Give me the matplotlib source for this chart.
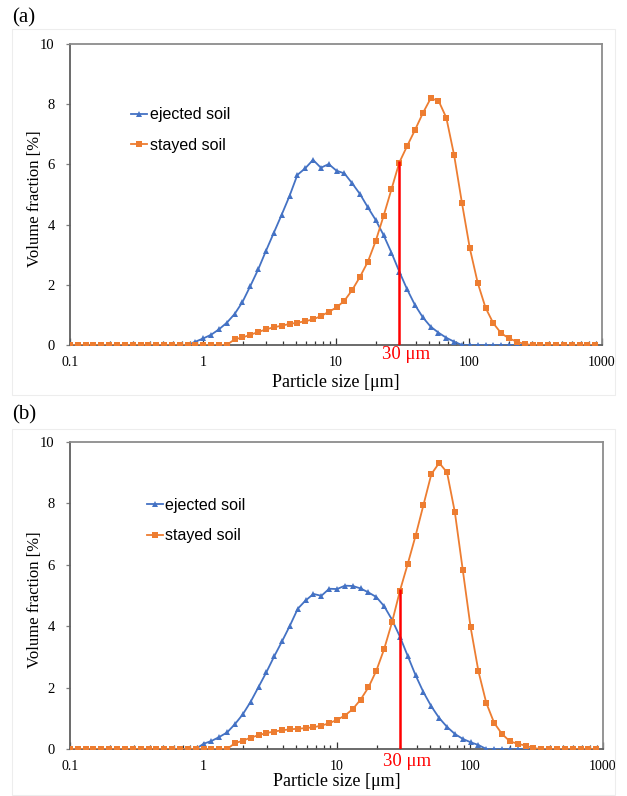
"""Particle size distributions of ejected and stayed soil, panels (a) and (b)."""

import matplotlib
import matplotlib.pyplot as plt
from matplotlib.patches import Rectangle
from matplotlib.ticker import FixedLocator, LogLocator, NullFormatter

matplotlib.use("Agg")

# particle size channels [um]
sizes = [
    0.1, 0.115, 0.131, 0.15, 0.172, 0.197, 0.226, 0.259, 0.296, 0.339,
    0.389, 0.445, 0.51, 0.584, 0.669, 0.766, 0.877, 1.005, 1.151, 1.318,
    1.51, 1.729, 1.981, 2.269, 2.599, 2.976, 3.409, 3.905, 4.472, 5.122,
    5.867, 6.72, 7.697, 8.816, 10.097, 11.565, 13.246, 15.172, 17.377, 19.904,
    22.797, 26.111, 29.907, 34.255, 39.234, 44.938, 51.471, 58.953, 67.523, 77.34,
    88.583, 101.46, 116.21, 133.103, 152.453, 174.616, 200.0, 229.075, 262.376, 300.518,
    344.206, 394.244, 451.556, 517.2, 592.387, 678.504, 777.141, 890.116,
]

# (a) volume fraction [%]
ejected_a = [
    0, 0, 0, 0, 0, 0, 0, 0, 0, 0,
    0, 0, 0, 0, 0, 0, 0.11, 0.22, 0.34, 0.52,
    0.74, 1.03, 1.43, 1.96, 2.51, 3.13, 3.73, 4.33, 4.95, 5.65,
    5.87, 6.15, 5.89, 6.01, 5.79, 5.70, 5.37, 5.01, 4.57, 4.15,
    3.65, 3.07, 2.44, 1.85, 1.33, 0.92, 0.61, 0.41, 0.24, 0.11,
    0, 0, 0, 0, 0, 0, 0, 0, 0, 0,
    0, 0, 0, 0, 0, 0, 0, 0,
]
stayed_a = [
    0, 0, 0, 0, 0, 0, 0, 0, 0, 0,
    0, 0, 0, 0, 0, 0, 0, 0, 0, 0,
    0, 0.19, 0.25, 0.34, 0.43, 0.52, 0.59, 0.64, 0.70, 0.74,
    0.79, 0.85, 0.96, 1.10, 1.25, 1.47, 1.83, 2.27, 2.77, 3.46,
    4.29, 5.17, 6.06, 6.61, 7.14, 7.70, 8.19, 8.12, 7.55, 6.30,
    4.71, 3.21, 2.07, 1.24, 0.72, 0.39, 0.22, 0.11, 0.03, 0,
    0, 0, 0, 0, 0, 0, 0, 0,
]

# (b) volume fraction [%]
ejected_b = [
    0, 0, 0, 0, 0, 0, 0, 0, 0, 0,
    0, 0, 0, 0, 0, 0, 0, 0.17, 0.26, 0.39,
    0.54, 0.81, 1.13, 1.54, 2.02, 2.50, 3.02, 3.51, 4.02, 4.57,
    4.84, 5.05, 4.99, 5.22, 5.21, 5.32, 5.31, 5.23, 5.10, 4.95,
    4.65, 4.21, 3.66, 3.03, 2.40, 1.85, 1.39, 1.01, 0.72, 0.49,
    0.33, 0.22, 0.13, 0, 0, 0, 0, 0, 0, 0,
    0, 0, 0, 0, 0, 0, 0, 0,
]
stayed_b = [
    0, 0, 0, 0, 0, 0, 0, 0, 0, 0,
    0, 0, 0, 0, 0, 0, 0, 0, 0, 0,
    0, 0.19, 0.27, 0.37, 0.45, 0.52, 0.57, 0.61, 0.64, 0.66,
    0.68, 0.71, 0.76, 0.84, 0.95, 1.09, 1.30, 1.61, 2.01, 2.55,
    3.26, 4.13, 5.15, 6.03, 6.95, 7.95, 8.95, 9.32, 9.01, 7.71,
    5.84, 3.97, 2.53, 1.50, 0.85, 0.49, 0.25, 0.17, 0.11, 0.03,
    0, 0, 0, 0, 0, 0, 0, 0,
]

cut_size = 30
cut_height_a = 6.1
cut_height_b = 5.2

BLUE = "#4472C4"
ORANGE = "#ED7D31"
SERIF = "Liberation Serif"
SANS = "Liberation Sans"

W, H = 627, 796
fig = plt.figure(figsize=(W / 100, H / 100), dpi=100)


def px_rect(left, top, right, bottom):
    return [left / W, 1 - bottom / H, (right - left) / W, (bottom - top) / H]


# faint chart-area frames
for top, bottom in [(29, 395), (429, 795)]:
    fig.patches.append(Rectangle((12 / W, 1 - bottom / H), (615 - 12) / W,
                                 (bottom - top) / H, transform=fig.transFigure,
                                 fill=False, edgecolor="#ededed", linewidth=0.8))


def draw_panel(ax, ejected, stayed, cut_height, legend_anchor, xlabel_y, label_off):
    ax.plot(sizes, ejected, color=BLUE, linewidth=1.3, marker="^",
            markersize=4.6, markeredgewidth=0, label="ejected soil", zorder=3)
    ax.plot(sizes, stayed, color=ORANGE, linewidth=1.3, marker="s",
            markersize=4.0, markeredgewidth=0, label="stayed soil", zorder=4)
    ax.vlines(cut_size, 0, cut_height, color="#FF0000", linewidth=1.8, zorder=5)
    ax.annotate("30 μm", xy=(cut_size, 0), xycoords="data",
                xytext=(5, label_off), textcoords="offset points",
                ha="center", va="top", color="#FF0000",
                fontsize=13.5, family=SERIF, annotation_clip=False)

    ax.set_xscale("log")
    ax.set_xlim(0.1, 1000)
    ax.set_ylim(0, 10)
    ax.set_yticks([0, 2, 4, 6, 8, 10])
    ax.xaxis.set_major_locator(FixedLocator([0.1, 1, 10, 100, 1000]))
    ax.set_xticklabels(["0.1", "1", "10", "100", "1000"])
    ax.xaxis.set_minor_locator(LogLocator(base=10, subs=range(2, 10)))
    ax.xaxis.set_minor_formatter(NullFormatter())

    ax.tick_params(axis="x", which="major", direction="in", length=5,
                   width=0.9, color="#333333", pad=8, labelsize=10)
    ax.tick_params(axis="x", which="minor", direction="in", length=3,
                   width=0.9, color="#333333")
    ax.tick_params(axis="y", direction="out", length=3, width=0.9,
                   color="#7f7f7f", pad=8, labelsize=10.5)
    for lab in ax.get_xticklabels() + ax.get_yticklabels():
        lab.set_family(SERIF)

    for side in ["left", "bottom"]:
        ax.spines[side].set_color("#5f5f5f")
        ax.spines[side].set_linewidth(1.3)
    for side in ["top", "right"]:
        ax.spines[side].set_color("#8c8c8c")
        ax.spines[side].set_linewidth(1.3)

    ax.set_ylabel("Volume fraction [%]", family=SERIF, fontsize=12)
    ax.yaxis.set_label_coords(-0.051, 0.485)
    ax.set_xlabel("Particle size [μm]", family=SERIF, fontsize=13)
    ax.xaxis.set_label_coords(0.5, xlabel_y)

    ax.legend(loc="center left", bbox_to_anchor=legend_anchor, frameon=False,
              prop={"family": SANS, "size": 11.5}, handlelength=1.0,
              handletextpad=0.15, labelspacing=0.95, borderpad=0,
              borderaxespad=0, numpoints=1, markerscale=1.0)


ax_a = fig.add_axes(px_rect(70, 44, 602, 345))
draw_panel(ax_a, ejected_a, stayed_a, cut_height_a, (0.115, 0.714), -0.098, -0.5)

ax_b = fig.add_axes(px_rect(70, 442, 603, 749))
draw_panel(ax_b, ejected_b, stayed_b, cut_height_b, (0.1445, 0.744), -0.077, -3)

fig.text(12 / W, 1 - 18 / H, "(a)", family=SERIF, fontsize=15, ha="left", va="center")
fig.text(12 / W, 1 - 415 / H, "(b)", family=SERIF, fontsize=15, ha="left", va="center")

fig.savefig("out.png", dpi=100)
plt.close(fig)
